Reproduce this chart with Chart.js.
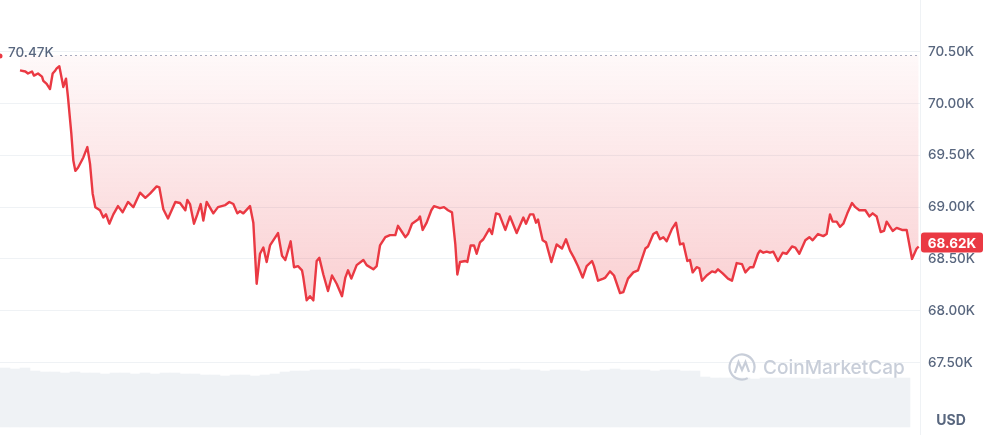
<!DOCTYPE html>
<html>
<head>
<meta charset="utf-8">
<script src="https://cdn.jsdelivr.net/npm/chart.js@4"></script>
<style>
  html, body { margin: 0; padding: 0; background: #fff; }
  canvas { display: block; }
</style>
</head>
<body>
<canvas id="chartPreco" width="991" height="435"></canvas>
<script>
// minutos desde o inicio do periodo
const tempos = [30,38,42,48,51,57,63,65,70,75,79,83,85,89,95,99,102,107,110,113,
  117,125,131,135,139,143,150,155,159,164,170,177,184,192,200,210,218,225,235,239,
  245,252,263,270,278,281,285,291,296,301,305,310,320,327,338,344,350,356,360,365,
  375,380,385,390,395,400,405,417,423,428,436,441,447,453,455,460,465,470,475,479,
  485,492,498,505,513,518,522,527,535,545,550,560,565,570,578,585,593,597,603,608,
  612,618,627,630,634,640,647,651,660,666,672,678,683,686,690,698,701,706,711,715,
  720,725,734,738,744,749,758,765,775,785,789,795,800,804,807,814,819,827,835,843,
  849,855,861,867,874,880,888,891,897,905,908,915,921,930,935,942,950,957,968,972,
  980,985,990,995,1000,1008,1014,1020,1025,1031,1035,1039,1045,1049,1053,1060,1068,1073,1077,1084,
  1092,1098,1105,1113,1118,1125,1130,1137,1140,1145,1150,1155,1160,1167,1174,1180,1188,1193,1199,1208,
  1214,1219,1227,1235,1240,1245,1249,1255,1260,1265,1271,1278,1283,1289,1298,1304,1309,1315,1321,1326,
  1330,1339,1345,1353,1360,1368,1375,1378];

// preco em USD
const precos = [70320,70310,70290,70310,70270,70290,70260,70220,70190,70140,
  70290,70320,70340,70360,70160,70240,70060,69710,69450,69350,
  69380,69480,69580,69420,69130,69000,68970,68900,68930,68840,
  68930,69010,68950,69050,69000,69140,69090,69130,69200,69190,
  68980,68890,69050,69040,68970,69070,69030,68840,68930,69030,
  68870,69050,68940,69000,69020,69050,69030,68940,68960,68940,
  69010,68850,68260,68550,68610,68470,68630,68750,68530,68490,
  68670,68420,68430,68390,68320,68100,68140,68100,68480,68510,
  68350,68190,68340,68260,68140,68320,68390,68310,68440,68490,
  68440,68400,68430,68630,68710,68730,68730,68820,68760,68710,
  68740,68840,68880,68910,68780,68850,68970,69010,68990,69000,
  68970,68950,68640,68350,68470,68480,68470,68630,68630,68550,
  68660,68690,68790,68740,68940,68930,68780,68910,68750,68900,
  68840,68930,68930,68850,68880,68680,68660,68470,68640,68600,
  68690,68580,68510,68430,68320,68430,68480,68430,68290,68310,
  68320,68380,68340,68170,68180,68310,68370,68390,68600,68620,
  68740,68760,68690,68710,68670,68790,68850,68640,68650,68480,
  68490,68370,68420,68410,68290,68340,68380,68370,68400,68360,
  68310,68290,68460,68450,68370,68420,68420,68550,68580,68560,
  68570,68560,68570,68480,68560,68550,68620,68610,68550,68680,
  68710,68680,68740,68720,68740,68930,68860,68860,68810,68840,
  68940,69040,69000,68970,68970,68910,68940,68910,68760,68770,
  68860,68770,68800,68780,68780,68500,68600,68620];

// volume a cada 15 minutos (unidade arbitraria)
const volumes = [59,58,59,56,55,55,54,55,54,54,53,54,54,53,54,53,54,54,53,53,
  52,52,51,52,52,51,52,53,55,56,56,57,57,
  57,57,58,57,57,58,58,57,57,58,57,57,57,58,58,57,57,57,58,57,57,56,57,57,57,56,57,57,58,57,57,57,56,57,57,56,56,
  50,49,49,49,49,48,49,49,49,49,49,48,49,49,49,49,49,48,49,49,49];

const precoAbertura = 70470;
const precoAtual = 68620;
const ticksY = [67500, 68000, 68500, 69000, 69500, 70000, 70500];

const vermelho = '#ea3943';
const cinzaTexto = '#58667e';

function formatarK(v) {
    return (v / 1000).toFixed(2) + 'K';
}

document.addEventListener('DOMContentLoaded', function() {
    const ctx = document.getElementById('chartPreco').getContext('2d');

    const pontosPreco = tempos.map((t, i) => ({ x: t, y: precos[i] }));
    const pontosVolume = volumes.map((v, i) => ({ x: i * 15 + 7.5, y: v }));

    // desenha linha de abertura, marca d'agua, etiqueta de preco e USD
    const extras = {
        id: 'extras',
        beforeDatasetsDraw(chart) {
            const c = chart.ctx;
            const area = chart.chartArea;
            const yAb = chart.scales.y.getPixelForValue(precoAbertura);
            c.save();
            c.strokeStyle = '#a6b0c3';
            c.lineWidth = 1;
            c.setLineDash([2, 3]);
            c.beginPath();
            c.moveTo(60, Math.round(yAb) + 0.5);
            c.lineTo(area.right, Math.round(yAb) + 0.5);
            c.stroke();
            c.restore();
        },
        afterDatasetsDraw(chart) {
            const c = chart.ctx;
            const area = chart.chartArea;
            const y = chart.scales.y;
            c.save();
            // rotulo do preco de abertura
            c.font = '500 13.5px Inter';
            c.fillStyle = cinzaTexto;
            c.textBaseline = 'middle';
            c.textAlign = 'left';
            c.fillText(formatarK(precoAbertura), 8, y.getPixelForValue(precoAbertura) - 2);
            // pequena marca vermelha na borda
            c.fillStyle = vermelho;
            c.beginPath();
            c.arc(0, y.getPixelForValue(precoAbertura) + 1, 2.5, 0, Math.PI * 2);
            c.fill();

            // marca d'agua
            const cor = '#c8ced9';
            c.strokeStyle = cor;
            c.lineWidth = 2.2;
            c.beginPath();
            c.arc(742, 367, 12.5, Math.PI * 0.35, Math.PI * 2.15);
            c.stroke();
            c.beginPath();
            c.moveTo(735, 373);
            c.lineTo(738.5, 362);
            c.lineTo(742, 370);
            c.lineTo(745.5, 362);
            c.lineTo(749, 372);
            c.stroke();
            c.fillStyle = cor;
            c.font = '500 19px Inter';
            c.fillText('CoinMarketCap', 763, 368);

            // etiqueta do preco atual
            const yAt = y.getPixelForValue(precoAtual) - 4;
            const x0 = area.right + 1;
            c.fillStyle = vermelho;
            c.beginPath();
            c.roundRect(x0, yAt - 10, 62, 20, 3);
            c.fill();
            c.fillStyle = '#fff';
            c.font = '700 13.5px Inter';
            c.textAlign = 'center';
            c.fillText(formatarK(precoAtual), x0 + 31, yAt + 1);

            // USD
            c.fillStyle = cinzaTexto;
            c.font = '700 14px Inter';
            c.fillText('USD', area.right + 31, 421);
            c.restore();
        }
    };

    new Chart(ctx, {
        data: {
            datasets: [
                {
                    type: 'line',
                    data: pontosPreco,
                    borderColor: vermelho,
                    borderWidth: 2.4,
                    borderJoinStyle: 'round',
                    pointRadius: 0,
                    tension: 0,
                    fill: { value: precoAbertura },
                    backgroundColor: function(context) {
                        const chart = context.chart;
                        if (!chart.chartArea) return 'rgba(234,57,67,0.1)';
                        const y = chart.scales.y;
                        const g = chart.ctx.createLinearGradient(0, y.getPixelForValue(precoAbertura), 0, y.getPixelForValue(68100));
                        g.addColorStop(0, 'rgba(234,57,67,0.03)');
                        g.addColorStop(1, 'rgba(234,57,67,0.24)');
                        return g;
                    },
                    yAxisID: 'y',
                    order: 1
                },
                {
                    type: 'bar',
                    data: pontosVolume,
                    backgroundColor: '#eff2f5',
                    borderWidth: 0,
                    barPercentage: 1,
                    categoryPercentage: 1,
                    yAxisID: 'yv',
                    order: 2
                }
            ]
        },
        options: {
            responsive: false,
            animation: false,
            devicePixelRatio: 1,
            layout: { padding: 0, autoPadding: false },
            plugins: {
                legend: { display: false },
                tooltip: { enabled: false }
            },
            scales: {
                x: {
                    type: 'linear',
                    display: false,
                    offset: false,
                    min: 0,
                    max: 1380
                },
                y: {
                    position: 'right',
                    min: 66800,
                    max: 71000,
                    afterBuildTicks: axis => { axis.ticks = ticksY.map(v => ({ value: v })); },
                    afterFit: axis => { axis.width = 71; axis.paddingTop = 0; axis.paddingBottom = 0; },
                    ticks: {
                        callback: v => formatarK(v),
                        color: cinzaTexto,
                        font: { family: 'Inter', size: 13.5, weight: '500' },
                        padding: 8
                    },
                    grid: { color: '#eff2f5', drawTicks: false },
                    border: { display: true, color: '#eff2f5' }
                },
                yv: {
                    display: false,
                    min: -8,
                    max: 427
                }
            }
        },
        plugins: [extras]
    });
});
</script>
</body>
</html>
